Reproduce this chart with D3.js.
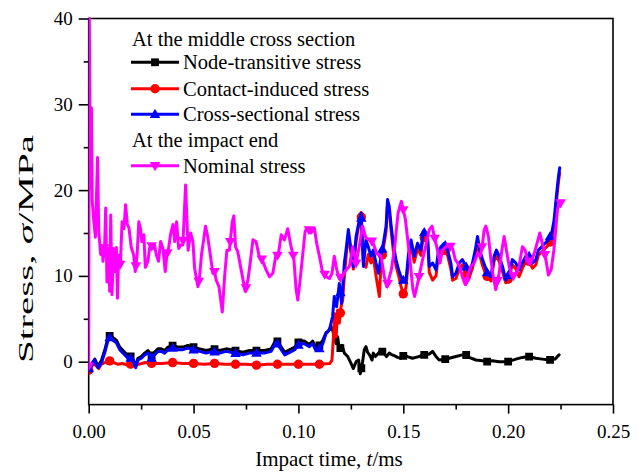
<!DOCTYPE html>
<html>
<head>
<meta charset="utf-8">
<script src="https://cdn.jsdelivr.net/npm/d3@7"></script>
<style>
  html, body { margin: 0; padding: 0; background: #fff; }
  svg text { font-family: "Liberation Serif", "Times New Roman", serif; fill: #000; }
</style>
</head>
<body>
<svg id="chart" width="644" height="472"></svg>
<script>
// Stress histories of the pile (t in ms, stress in MPa)
const timeTicks = [0, 0.05, 0.10, 0.15, 0.20, 0.25];
const timeMinorTicks = [0.025, 0.075, 0.125, 0.175, 0.225];
const stressTicks = [0, 10, 20, 30, 40];
const stressMinorTicks = [5, 15, 25, 35];

// Middle cross section: node-transitive stress
const nodeStress = [
  [0,-0.6],[0.0013,-0.3],[0.0029,0.3],[0.0044,-0.5],[0.0060,0.1],[0.0076,1.3],[0.0092,2.8],[0.0103,3.1],
  [0.0116,2.8],[0.0132,2.5],[0.0148,1.7],[0.0171,1.1],[0.0187,0.7],[0.0203,0.6],[0.0216,0.0],[0.0224,-0.5],
  [0.0235,0.4],[0.0251,0.6],[0.0267,1.0],[0.0283,1.3],[0.0299,0.7],[0.0314,1.1],[0.0330,1.5],[0.0346,1.5],
  [0.0362,1.3],[0.0378,1.7],[0.0402,1.9],[0.0425,1.7],[0.0449,1.7],[0.0473,1.9],[0.0497,1.7],[0.0529,1.5],
  [0.0560,1.3],[0.0592,1.5],[0.0624,1.3],[0.0656,1.5],[0.0695,1.3],[0.0735,1.1],[0.0767,1.3],[0.0798,1.3],
  [0.0838,1.3],[0.0870,1.5],[0.0894,2.6],[0.0910,2.0],[0.0935,1.1],[0.0983,1.7],[0.1005,2.4],[0.1029,2.4],
  [0.1052,2.0],[0.1068,2.4],[0.1081,1.7],[0.1097,1.8],[0.1116,2.5],[0.1132,3.4],[0.1140,3.5],[0.1156,4.1],
  [0.1164,3.6],[0.1171,2.9],[0.1180,2.1],[0.1187,2.9],[0.1195,1.4],[0.1208,1.9],[0.1219,1.0],[0.1235,0.6],
  [0.1251,-0.2],[0.1262,-0.8],[0.1275,0.0],[0.1287,0.2],[0.1295,-1.4],[0.1306,0.0],[0.1314,1.4],[0.1322,1.75],
  [0.1330,1.1],[0.1341,0.7],[0.1351,0.2],[0.1357,1.0],[0.1367,0.6],[0.1378,0.9],[0.1389,1.2],[0.1399,1.2],
  [0.1410,0.9],[0.1420,0.6],[0.1433,1.0],[0.1446,0.8],[0.1457,0.7],[0.1473,0.5],[0.1489,0.4],[0.1505,0.8],
  [0.1520,0.6],[0.1544,0.4],[0.1560,0.5],[0.1576,0.6],[0.1592,0.8],[0.1608,0.8],[0.1624,0.9],[0.1640,1.2],
  [0.1656,0.6],[0.1671,0.2],[0.1703,0.3],[0.1719,0.4],[0.1751,0.6],[0.1782,0.8],[0.1799,0.8],[0.1814,0.5],
  [0.1846,0.2],[0.1878,0.1],[0.1897,0.0],[0.1925,0.1],[0.1957,0.0],[0.2000,0.0],[0.2037,0.3],[0.2068,0.5],
  [0.2097,0.6],[0.2132,0.4],[0.2163,0.3],[0.2195,0.2],[0.2224,0.3],[0.2235,0.6],[0.2243,0.8]
];

// Middle cross section: contact-induced stress
const contactStress = [
  [0,-1.0],[0.0013,-0.6],[0.0024,-0.2],[0.0036,-0.5],[0.0048,-0.8],[0.0060,-0.3],[0.0076,-0.1],[0.0100,0.1],
  [0.0120,-0.1],[0.0140,-0.3],[0.0160,-0.2],[0.0185,-0.4],[0.0210,-0.2],[0.0240,-0.3],[0.0270,-0.1],[0.0300,-0.2],
  [0.0350,-0.2],[0.0400,-0.1],[0.0450,-0.2],[0.0500,-0.2],[0.0550,-0.3],[0.0600,-0.2],[0.0650,-0.3],[0.0700,-0.3],
  [0.0750,-0.3],[0.0800,-0.4],[0.0850,-0.3],[0.0900,-0.3],[0.0950,-0.3],[0.1000,-0.3],[0.1050,-0.3],[0.1100,-0.3],
  [0.1150,-0.2],[0.1160,0.2],[0.1167,2.9],[0.1173,5.6],[0.1180,2.9],[0.1187,6.0],[0.1195,4.5],[0.1203,6.4],
  [0.1211,7.2],[0.1219,9.9],[0.1230,13.0],[0.1240,14.6],[0.1251,12.6],[0.1262,10.8],[0.1275,14.0],[0.1287,15.8],
  [0.1299,17.4],[0.1310,11.5],[0.1322,11.0],[0.1333,12.5],[0.1346,11.5],[0.1357,12.2],[0.1370,10.0],[0.1386,7.6],
  [0.1394,11.5],[0.1405,13.2],[0.1418,15.2],[0.1425,18.4],[0.1433,17.6],[0.1441,15.5],[0.1452,13.0],[0.1465,11.2],
  [0.1478,10.0],[0.1489,8.8],[0.1500,7.9],[0.1513,8.6],[0.1525,12.0],[0.1537,13.6],[0.1552,11.6],[0.1568,13.2],
  [0.1584,12.4],[0.1595,14.6],[0.1616,14.0],[0.1624,10.4],[0.1640,9.5],[0.1656,10.0],[0.1668,12.5],[0.1680,12.8],
  [0.1695,13.2],[0.1711,12.4],[0.1727,10.8],[0.1735,9.5],[0.1751,9.7],[0.1767,10.8],[0.1782,11.3],[0.1799,10.1],
  [0.1814,9.8],[0.1830,10.9],[0.1843,12.4],[0.1854,14.0],[0.1865,12.4],[0.1878,11.2],[0.1890,10.4],[0.1901,9.9],
  [0.1918,9.4],[0.1933,11.7],[0.1944,12.4],[0.1957,11.7],[0.1973,10.5],[0.1989,9.2],[0.2005,9.8],[0.2020,11.3],
  [0.2037,10.8],[0.2052,9.9],[0.2068,10.9],[0.2084,11.7],[0.2100,11.7],[0.2116,10.9],[0.2132,11.3],[0.2144,12.4],
  [0.2160,12.8],[0.2176,13.2],[0.2192,13.6],[0.2208,14.3],[0.2219,15.8],[0.2230,18.6],[0.2240,21.0],[0.2246,22.0]
];

// Middle cross section: cross-sectional stress
const sectionStress = [
  [0,-0.8],[0.0013,-0.5],[0.0029,0.2],[0.0044,-0.7],[0.0060,-0.2],[0.0076,1.0],[0.0092,2.5],[0.0103,2.9],
  [0.0116,2.5],[0.0132,2.2],[0.0148,1.4],[0.0171,0.8],[0.0187,0.4],[0.0203,0.4],[0.0216,-0.2],[0.0224,-0.7],
  [0.0235,0.2],[0.0251,0.4],[0.0267,0.8],[0.0283,1.0],[0.0299,0.4],[0.0314,0.8],[0.0330,1.2],[0.0346,1.2],
  [0.0362,1.0],[0.0378,1.4],[0.0402,1.6],[0.0425,1.4],[0.0449,1.4],[0.0473,1.6],[0.0497,1.4],[0.0529,1.2],
  [0.0560,1.0],[0.0592,1.2],[0.0624,1.0],[0.0656,1.2],[0.0695,1.0],[0.0735,0.8],[0.0767,1.0],[0.0798,1.0],
  [0.0838,1.0],[0.0870,1.2],[0.0894,2.3],[0.0910,1.7],[0.0935,0.8],[0.0983,1.4],[0.1005,2.1],[0.1029,2.1],
  [0.1052,1.75],[0.1068,2.1],[0.1081,1.4],[0.1097,1.4],[0.1116,2.1],[0.1132,3.3],[0.1148,3.7],[0.1163,5.3],
  [0.1171,7.6],[0.1182,6.4],[0.1195,9.1],[0.1206,6.8],[0.1219,11.5],[0.1227,13.0],[0.1238,15.4],[0.1251,13.0],
  [0.1262,11.1],[0.1275,14.6],[0.1287,16.1],[0.1299,17.3],[0.1310,11.1],[0.1322,14.2],[0.1333,13.4],[0.1346,12.3],
  [0.1357,13.0],[0.1370,11.5],[0.1382,10.3],[0.1394,12.3],[0.1405,13.8],[0.1418,15.8],[0.1425,18.9],[0.1433,18.1],
  [0.1441,16.1],[0.1452,13.8],[0.1465,11.9],[0.1478,10.7],[0.1489,9.9],[0.1500,9.5],[0.1513,9.5],[0.1525,12.6],
  [0.1537,14.2],[0.1552,12.3],[0.1568,13.8],[0.1584,13.0],[0.1595,15.2],[0.1616,14.6],[0.1624,11.1],[0.1640,11.5],
  [0.1656,10.7],[0.1668,13.0],[0.1680,13.4],[0.1695,13.8],[0.1711,13.0],[0.1727,11.5],[0.1735,9.9],[0.1751,10.3],
  [0.1767,11.5],[0.1782,11.9],[0.1799,11.1],[0.1814,10.3],[0.1830,11.5],[0.1843,13.0],[0.1854,14.6],[0.1865,13.0],
  [0.1878,11.9],[0.1890,11.1],[0.1901,10.3],[0.1918,9.9],[0.1933,12.3],[0.1944,13.0],[0.1957,12.3],[0.1973,11.1],
  [0.1989,9.5],[0.2005,10.3],[0.2020,11.9],[0.2037,11.5],[0.2052,10.7],[0.2068,11.5],[0.2084,12.3],[0.2100,12.3],
  [0.2116,11.5],[0.2132,11.9],[0.2144,13.0],[0.2160,13.4],[0.2176,13.8],[0.2192,14.2],[0.2208,15.0],[0.2219,16.5],
  [0.2230,19.3],[0.2240,21.6],[0.2246,22.6]
];

// Impact end: nominal stress
const nominalStress = [
  [0,-0.5],[0.0003,40],[0.0008,20.2],[0.0013,29.6],[0.0017,18.7],[0.0024,16.5],[0.0032,14.5],[0.0042,23.8],
  [0.0048,15.2],[0.0057,12.5],[0.0064,13.5],[0.0068,11.7],[0.0076,13.5],[0.0081,17.9],[0.0087,9.3],[0.0095,13.2],
  [0.0100,8.2],[0.0105,17.1],[0.0111,7.8],[0.0119,13.2],[0.0124,10.5],[0.0132,13.3],[0.0137,7.4],[0.0143,12.4],
  [0.0151,11.2],[0.0159,16.3],[0.0168,15.5],[0.0176,18.3],[0.0184,16.0],[0.0192,15.6],[0.0203,13.3],[0.0214,12.5],
  [0.0222,10.5],[0.0231,12.5],[0.0239,16.3],[0.0247,15.5],[0.0253,14.0],[0.0263,14.8],[0.0270,11.0],[0.0282,11.7],
  [0.0290,13.2],[0.0298,13.6],[0.0306,13.2],[0.0314,13.6],[0.0322,12.5],[0.0333,11.7],[0.0343,14.0],[0.0354,13.2],
  [0.0365,10.5],[0.0373,12.5],[0.0381,13.2],[0.0390,14.8],[0.0402,16.0],[0.0410,14.0],[0.0419,16.3],[0.0429,13.2],
  [0.0438,13.6],[0.0449,13.6],[0.0462,20.6],[0.0474,13.0],[0.0486,15.0],[0.0497,14.0],[0.0505,10.9],[0.0521,8.75],
  [0.0529,10.0],[0.0538,12.5],[0.0548,14.2],[0.0557,15.8],[0.0568,14.5],[0.0579,12.6],[0.0592,10.3],[0.0600,10.5],
  [0.0608,9.5],[0.0621,8.75],[0.0637,5.8],[0.0648,9.9],[0.0659,13.0],[0.0671,13.0],[0.0684,16.2],[0.0692,17.0],
  [0.0700,13.4],[0.0711,12.8],[0.0727,10.7],[0.0746,8.2],[0.0759,9.5],[0.0770,11.5],[0.0783,14.2],[0.0798,14.0],
  [0.0814,12.2],[0.0827,11.9],[0.0846,10.7],[0.0862,9.9],[0.0878,10.3],[0.0894,12.6],[0.0903,12.3],[0.0918,14.8],
  [0.0933,14.2],[0.0949,15.5],[0.0965,13.4],[0.0978,12.1],[0.0989,8.4],[0.0997,7.2],[0.1008,9.5],[0.1021,12.6],
  [0.1032,15.2],[0.1044,15.6],[0.1060,15.0],[0.1076,15.6],[0.1087,13.8],[0.1100,12.3],[0.1113,10.7],[0.1132,9.9],
  [0.1148,9.7],[0.1160,10.3],[0.1171,12.3],[0.1183,10.7],[0.1195,9.7],[0.1211,10.1],[0.1227,10.7],[0.1243,11.1],
  [0.1259,13.4],[0.1275,11.5],[0.1290,13.4],[0.1306,15.8],[0.1322,14.4],[0.1338,14.2],[0.1354,14.0],[0.1373,12.6],
  [0.1394,12.3],[0.1410,9.9],[0.1421,8.75],[0.1443,10.7],[0.1459,13.4],[0.1475,17.3],[0.1491,18.7],[0.1510,16.6],
  [0.1530,12.3],[0.1546,8.4],[0.1554,7.6],[0.1568,9.1],[0.1592,11.9],[0.1608,13.6],[0.1624,15.4],[0.1637,15.8],
  [0.1648,14.6],[0.1663,13.0],[0.1675,11.5],[0.1687,13.0],[0.1703,13.4],[0.1719,13.6],[0.1735,13.2],[0.1748,11.9],
  [0.1759,11.5],[0.1770,10.9],[0.1782,9.9],[0.1795,9.0],[0.1811,10.3],[0.1822,11.1],[0.1838,11.5],[0.1854,12.6],
  [0.1867,12.3],[0.1878,13.8],[0.1886,15.4],[0.1894,15.8],[0.1906,14.6],[0.1918,11.9],[0.1929,9.9],[0.1941,8.4],
  [0.1957,10.3],[0.1970,13.0],[0.1981,14.6],[0.1992,13.0],[0.2005,11.1],[0.2020,9.9],[0.2037,10.3],[0.2052,11.1],
  [0.2068,13.4],[0.2081,13.0],[0.2092,11.9],[0.2108,11.5],[0.2124,12.6],[0.2140,14.0],[0.2151,15.0],[0.2167,13.4],
  [0.2180,11.9],[0.2192,10.1],[0.2205,10.7],[0.2218,13.0],[0.2227,15.4],[0.2235,17.7],[0.2246,18.5]
];

const seriesNames = ["Node-transitive stress", "Contact-induced stress", "Cross-sectional stress", "Nominal stress"];
const seriesColors = ["#000000", "#ff0000", "#0000ff", "#ff00ff"];
const seriesSymbols = ["square", "circle", "triangle", "triangleDown"];
const markerSteps = [0.01, 0.01, 0.01, 0.0075];
const groupTitles = ["At the middle cross section", "At the impact end"];
const xTitle = "Impact time, ";
const yTitle = "Stress, ";

const allSeries = [nodeStress, contactStress, sectionStress, nominalStress];

const svg = d3.select("#chart");
const plotLeft = 88.7, plotRight = 613, plotTop = 18.5, plotBottom = 404.6;

const x = d3.scaleLinear().domain([0, 0.25]).range([plotLeft, plotRight]);
const y = d3.scaleLinear().domain([-5, 40]).range([plotBottom, plotTop]);

svg.append("defs").append("clipPath").attr("id", "plotClip")
  .append("rect").attr("x", plotLeft).attr("y", plotTop - 2)
  .attr("width", plotRight - plotLeft).attr("height", plotBottom - plotTop + 2);

// Frame
svg.append("rect").attr("x", plotLeft).attr("y", plotTop)
  .attr("width", plotRight - plotLeft).attr("height", plotBottom - plotTop)
  .attr("fill", "none").attr("stroke", "#000").attr("stroke-width", 1.6);

// Axes
const fmtX = d3.format(".2f");
const xAxis = svg.append("g").attr("transform", `translate(0,${plotBottom})`)
  .call(d3.axisBottom(x).tickValues(timeTicks).tickFormat(fmtX).tickSize(9).tickPadding(6));
const xMinor = svg.append("g").attr("transform", `translate(0,${plotBottom})`)
  .call(d3.axisBottom(x).tickValues(timeMinorTicks).tickFormat("").tickSize(5));
const yAxis = svg.append("g").attr("transform", `translate(${plotLeft},0)`)
  .call(d3.axisLeft(y).tickValues(stressTicks).tickSize(10).tickPadding(6));
const yMinor = svg.append("g").attr("transform", `translate(${plotLeft},0)`)
  .call(d3.axisLeft(y).tickValues(stressMinorTicks).tickFormat("").tickSize(5));

[xAxis, xMinor, yAxis, yMinor].forEach(g => {
  g.select(".domain").remove();
  g.selectAll(".tick line").attr("stroke", "#000").attr("stroke-width", 1.6);
  g.selectAll(".tick text").attr("font-size", 19).attr("font-family", "Liberation Serif");
});
xAxis.selectAll(".tick text").attr("dy", "0.95em");

// Axis titles
const xt = svg.append("text").attr("x", 329).attr("y", 466).attr("text-anchor", "middle").attr("font-size", 21);
xt.append("tspan").text(xTitle);
xt.append("tspan").attr("font-style", "italic").text("t");
xt.append("tspan").text("/ms");

// The vertical title is drawn stretched along its length
const yt = svg.append("text").attr("transform", "translate(33,249) rotate(-90)")
  .attr("text-anchor", "middle").attr("font-size", 21)
  .attr("textLength", 228).attr("lengthAdjust", "spacingAndGlyphs");
yt.append("tspan").text(yTitle);
yt.append("tspan").attr("font-style", "italic").text("σ");
yt.append("tspan").text("/MPa");

// Symbol helpers
function symbolPath(kind, s) {
  if (kind === "square") return `M${-s},${-s}H${s}V${s}H${-s}Z`;
  if (kind === "circle") return d3.symbol(d3.symbolCircle, Math.PI * s * s)();
  if (kind === "triangle") return `M0,${-s * 1.15}L${s * 1.1},${s * 0.75}L${-s * 1.1},${s * 0.75}Z`;
  return `M0,${s * 1.15}L${s * 1.1},${-s * 0.75}L${-s * 1.1},${-s * 0.75}Z`;
}
const symbolSizes = { square: 3.9, circle: 4.7, triangle: 4.8, triangleDown: 4.8 };

const bis = d3.bisector(d => d[0]).left;
function valueAt(data, t) {
  if (t <= data[0][0]) return data[0][1];
  if (t >= data[data.length - 1][0]) return data[data.length - 1][1];
  const i = bis(data, t);
  const a = data[i - 1], b = data[i];
  const f = (t - a[0]) / (b[0] - a[0]);
  return a[1] + f * (b[1] - a[1]);
}

const line = d3.line().x(d => x(d[0])).y(d => y(d[1]));
const plot = svg.append("g").attr("clip-path", "url(#plotClip)");

allSeries.forEach((data, k) => {
  const g = plot.append("g");
  g.append("path").datum(data).attr("d", line)
    .attr("fill", "none").attr("stroke", seriesColors[k]).attr("stroke-width", 3)
    .attr("stroke-linejoin", "round").attr("stroke-linecap", "round");
  const tEnd = data[data.length - 1][0];
  const times = d3.range(0, tEnd + markerSteps[k] * 0.5, markerSteps[k]).filter(t => t <= tEnd + 0.0006);
  g.selectAll("path.mk").data(times).join("path").attr("class", "mk")
    .attr("transform", t => `translate(${x(t)},${y(valueAt(data, t))})`)
    .attr("d", symbolPath(seriesSymbols[k], symbolSizes[seriesSymbols[k]]))
    .attr("fill", seriesColors[k]);
});

// Legend
const legend = svg.append("g").attr("font-size", 20.5);
legend.append("text").attr("x", 132).attr("y", 45.5).text(groupTitles[0]);
legend.append("text").attr("x", 132).attr("y", 147).text(groupTitles[1]);
const rowY = [62.3, 88.8, 114.3, 165.7];
seriesNames.forEach((name, k) => {
  const g = legend.append("g");
  g.append("line").attr("x1", 131).attr("x2", 179).attr("y1", rowY[k]).attr("y2", rowY[k])
    .attr("stroke", seriesColors[k]).attr("stroke-width", 3);
  g.append("path").attr("transform", `translate(155,${rowY[k]})`)
    .attr("d", symbolPath(seriesSymbols[k], symbolSizes[seriesSymbols[k]])).attr("fill", seriesColors[k]);
  g.append("text").attr("x", 183).attr("y", rowY[k]).attr("dy", "0.34em").text(name);
});
</script>
</body>
</html>
